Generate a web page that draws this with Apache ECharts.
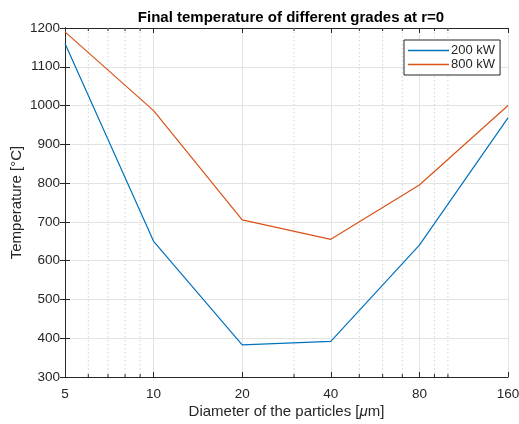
<!DOCTYPE html>
<html><head><meta charset="utf-8">
<script src="https://cdn.jsdelivr.net/npm/echarts@6/dist/echarts.min.js"></script>
<style>html,body{margin:0;padding:0;background:#fff}#c{width:519px;height:424px}</style>
</head><body><div id="c"></div>
<script>
const diameters = [5, 10, 20, 40, 80, 160];
const temp200 = [1160, 650, 383, 392, 640, 968];
const temp800 = [1190, 987, 705, 655, 795, 1000];
const minorDiameters = [6, 7, 8, 9, 30, 50, 60, 70, 90, 100];
const yTicks = [300, 400, 500, 600, 700, 800, 900, 1000, 1100, 1200];

const base = diameters[0];
const lx = d => Math.log2(d / base);
const FONT = '"Liberation Sans", Arial, sans-serif';
const AX = '#262626';
const GRID = '#e3e3e3';

const chart = echarts.init(document.getElementById('c'), null, {renderer: 'canvas'});
const xmax = lx(diameters[diameters.length - 1]);
const ymin = yTicks[0], ymax = yTicks[yTicks.length - 1];

const commonX = {
  type: 'value', min: 0, max: xmax, interval: 1,
  axisLine: {show: true, lineStyle: {color: AX, width: 1}},
  axisTick: {show: true, inside: true, length: 5, lineStyle: {color: AX}}
};
const commonY = {
  type: 'value', min: ymin, max: ymax, interval: 100,
  axisLine: {show: true, lineStyle: {color: AX, width: 1}},
  axisTick: {show: true, inside: true, length: 5, lineStyle: {color: AX}}
};

chart.setOption({
  animation: false,
  backgroundColor: '#fff',
  title: {
    text: 'Final temperature of different grades at r=0',
    left: 286, top: 5, textAlign: 'center',
    textStyle: {fontFamily: FONT, fontSize: 15, fontWeight: 'bold', color: '#000'}
  },
  grid: {left: 65, right: 11, top: 28, bottom: 47, containLabel: false, outerBoundsMode: 'none'},
  legend: {
    orient: 'vertical', left: 404, top: 40,
    backgroundColor: '#fff', borderColor: AX, borderWidth: 1,
    padding: [4, 5, 4, 4], itemGap: 1,
    itemWidth: 41, itemHeight: 1.5, icon: 'rect',
    textStyle: {fontFamily: FONT, fontSize: 13, color: AX, padding: [0, 0, 0, -3]},
    data: ['200 kW', '800 kW']
  },
  xAxis: [
    Object.assign({}, commonX, {
      position: 'bottom',
      name: '{n|Diameter of the particles [}{i|μ}{n|m]}',
      nameLocation: 'middle', nameGap: 27, nameMoveOverlap: false,
      nameTextStyle: {rich: {
        n: {fontFamily: FONT, fontSize: 15, color: AX},
        i: {fontFamily: FONT, fontSize: 15, color: AX, fontStyle: 'italic'}
      }},
      axisLabel: {fontFamily: FONT, fontSize: 13.5, color: AX, margin: 10,
        formatter: v => String(Math.round(base * Math.pow(2, v)))},
      splitLine: {show: true, lineStyle: {color: GRID, width: 1}}
    }),
    Object.assign({}, commonX, {
      position: 'top', axisLabel: {show: false}, splitLine: {show: false}
    })
  ],
  yAxis: [
    Object.assign({}, commonY, {
      position: 'left',
      name: 'Temperature [°C]', nameLocation: 'middle', nameGap: 41, nameMoveOverlap: false,
      nameTextStyle: {fontFamily: FONT, fontSize: 15, color: AX},
      axisLabel: {fontFamily: FONT, fontSize: 13.5, color: AX, margin: 5,
        formatter: v => String(v)},
      splitLine: {show: true, lineStyle: {color: GRID, width: 1}}
    }),
    Object.assign({}, commonY, {
      position: 'right', axisLabel: {show: false}, splitLine: {show: false}
    })
  ],
  series: [
    {
      type: 'custom', name: 'minor', silent: true, z: 1,
      xAxisIndex: 0, yAxisIndex: 0,
      data: minorDiameters.map(d => [lx(d)]),
      renderItem: (params, api) => {
        const x = api.value(0);
        const top = api.coord([x, ymax]);
        const bot = api.coord([x, ymin]);
        return {type: 'group', children: [
          {type: 'line', shape: {x1: top[0], y1: top[1], x2: bot[0], y2: bot[1]},
           style: {stroke: '#d4d4d4', lineWidth: 1, lineDash: [1.5, 2.5]}},
          {type: 'line', shape: {x1: top[0], y1: top[1], x2: top[0], y2: top[1] + 3},
           style: {stroke: AX, lineWidth: 1}},
          {type: 'line', shape: {x1: bot[0], y1: bot[1], x2: bot[0], y2: bot[1] - 3},
           style: {stroke: AX, lineWidth: 1}}
        ]};
      }
    },
    {
      type: 'line', name: '200 kW', symbol: 'none', z: 3,
      color: '#0072BD', lineStyle: {width: 1.2, color: '#0072BD'},
      data: diameters.map((d, i) => [lx(d), temp200[i]])
    },
    {
      type: 'line', name: '800 kW', symbol: 'none', z: 3,
      color: '#D95319', lineStyle: {width: 1.2, color: '#D95319'},
      data: diameters.map((d, i) => [lx(d), temp800[i]])
    }
  ]
});
</script></body></html>
